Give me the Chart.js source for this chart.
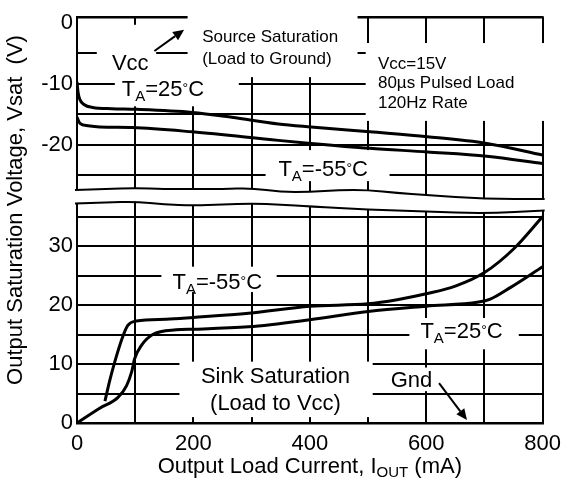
<!DOCTYPE html>
<html>
<head>
<meta charset="utf-8">
<script src="https://cdn.jsdelivr.net/npm/chart.js@4.4.1/dist/chart.umd.min.js"></script>
<style>
  body { margin: 0; background: #fff; }
  #wrap { position: relative; width: 569px; height: 490px; }
</style>
</head>
<body>
<div id="wrap"><canvas id="Chart-canvas"></canvas></div>
<script>
const FONT = "'Liberation Sans', Arial, sans-serif";

// source saturation (upper panel), volts vs mA
const srcX25 = [0, 2, 5, 12, 27, 60, 102, 198, 266, 346, 402, 503, 602, 704, 800];
const srcV25 = [-9.7, -11.5, -12.6, -13.4, -13.9, -14.1, -14.2, -14.7, -15.5, -16.6, -17.1, -17.9, -18.7, -19.8, -21.7];
const srcX55 = [0, 5, 19, 39, 95, 198, 346, 402, 503, 602, 704, 800];
const srcV55 = [-15.5, -16.5, -16.9, -17.1, -17.2, -17.9, -19.3, -19.8, -20.6, -21.2, -21.9, -23.1];

// sink saturation (lower panel)
const sinkX55 = [48, 56, 65, 77, 87, 102, 153, 200, 295, 400, 500, 550, 600, 650, 700, 750, 800];
const sinkV55 = [3.7, 7.1, 10.4, 14.2, 16.5, 17.3, 17.6, 17.9, 18.6, 19.8, 20.2, 20.9, 21.9, 23.2, 25.5, 29.5, 35];
const sinkX25 = [0, 39, 70, 85, 94, 99, 111, 130, 170, 200, 295, 400, 500, 600, 690, 710, 745, 800];
const sinkV25 = [0, 2.5, 4.3, 6.3, 8.7, 10.9, 13.2, 15, 15.8, 15.9, 16.3, 17.5, 18.9, 19.8, 20.5, 21, 23, 26.5];

const xTicks = [0, 100, 200, 300, 400, 500, 600, 700, 800];
const xLabels = [0, 200, 400, 600, 800];
const topTicks = [-25, -20, -15, -10, -5, 0];
const topLabels = [0, -10, -20];
const sinkTicks = [0, 5, 10, 15, 20, 25, 30, 35];
const sinkLabels = [0, 10, 20, 30];

const TOP_MIN = -27.3, TOP_MAX = 0.95;
const SINK_MIN = 0, SINK_MAX = 37.2;

// white patches behind the notes: [axis, x0, x1, y0, y1]
const masks = [
  ['yTop', 190, 482, 1.5, -8.9],
  ['yTop', 82, 200, -0.3, -4.0],
  ['yTop', 34, 136, -3.8, -9.1],
  ['yTop', 65, 278, -7.8, -13.7],
  ['yTop', 496, 806, -3.3, -16.1],
  ['yTop', 324, 537, -20.9, -26.0],
  ['y', 145, 343, 26.5, 22.2],
  ['y', 571, 759, 17.8, 12.5],
  ['y', 176, 508, 10.4, 1.0],
  ['y', 534, 619, 9.4, 5.4]
];

const ta = t => [['T', 22, 0], ['A', 15, 5], ['=' + t, 22, 0], ['°', 14, -3], ['C', 22, 0]];

// notes: axis, x, y (centre), align, runs
const notes = [
  ['yTop', 60, -6.5, 'left', [['Vcc', 22, 0]]],
  ['yTop', 77, -10.7, 'left', ta('25')],
  ['yTop', 215, -2.2, 'left', [['Source Saturation', 17, 0]]],
  ['yTop', 215, -5.7, 'left', [['(Load to Ground)', 17, 0]]],
  ['yTop', 517, -6.5, 'left', [['Vcc=15V', 17, 0]]],
  ['yTop', 517, -9.7, 'left', [['80µs Pulsed Load', 17, 0]]],
  ['yTop', 517, -12.9, 'left', [['120Hz Rate', 17, 0]]],
  ['yTop', 346, -23.8, 'left', ta('-55')],
  ['y', 164, 24.1, 'left', ta('-55')],
  ['y', 590, 15.8, 'left', ta('25')],
  ['y', 341, 8.2, 'center', [['Sink Saturation', 22, 0]]],
  ['y', 341, 3.5, 'center', [['(Load to Vcc)', 22, 0]]],
  ['y', 539, 7.4, 'left', [['Gnd', 22, 0]]]
];

const arrows = [
  ['yTop', 133, -4.6, 184, -1.1],
  ['y', 622, 6.75, 670, 0.5]
];

// break marks: [mA, pixel offset from gap edge]
const waveTop = [[0, 1], [50, 0], [100, -1], [150, 0], [200, 0], [250, 0], [300, -1], [350, 3], [400, 3], [450, 1], [500, 1], [550, 4], [600, 6], [700, 10], [800, 10]];
const waveBottom = [[0, 0], [50, -1], [100, -2], [150, 1], [200, 2], [250, 1], [300, 0], [350, 1], [400, 3], [500, 6], [600, 8], [700, 10], [800, 7]];

const pts = (xs, ys) => xs.map((x, i) => ({ x: x, y: ys[i] }));

function drawRuns(ctx, parts, x, yc, align) {
  let w = 0;
  parts.forEach(p => { ctx.font = p[1] + 'px ' + FONT; w += ctx.measureText(p[0]).width; });
  let cx = align === 'center' ? x - w / 2 : x;
  const base = yc + 0.36 * parts[0][1];
  ctx.textAlign = 'left';
  ctx.textBaseline = 'alphabetic';
  parts.forEach(p => {
    ctx.font = p[1] + 'px ' + FONT;
    ctx.fillText(p[0], cx, base + p[2]);
    cx += ctx.measureText(p[0]).width;
  });
}

function wavePath(ctx, p) {
  ctx.moveTo(p[0][0], p[0][1]);
  for (let i = 1; i < p.length - 1; i++) {
    const mx = (p[i][0] + p[i + 1][0]) / 2, my = (p[i][1] + p[i + 1][1]) / 2;
    ctx.quadraticCurveTo(p[i][0], p[i][1], mx, my);
  }
  ctx.lineTo(p[p.length - 1][0], p[p.length - 1][1]);
}

const decor = {
  id: 'decor',
  beforeDatasetsDraw(chart) {
    const { ctx, chartArea: a, scales } = chart;
    const xs = scales.x, gap = scales.yGap;
    ctx.save();
    ctx.strokeStyle = '#000';
    ctx.lineWidth = 2.5;
    ctx.beginPath();
    ctx.moveTo(a.left - 1, scales.yTop.top);
    ctx.lineTo(a.right + 1, scales.yTop.top);
    ctx.stroke();

    const up = waveTop.map(w => [xs.getPixelForValue(w[0]), gap.top + w[1]]);
    const lo = waveBottom.map(w => [xs.getPixelForValue(w[0]), gap.bottom + w[1]]);
    up[0][0] -= 2; lo[0][0] -= 2; up[up.length - 1][0] += 2; lo[lo.length - 1][0] += 2;
    ctx.fillStyle = '#fff';
    ctx.beginPath();
    ctx.moveTo(up[0][0], up[0][1]);
    up.forEach(p => ctx.lineTo(p[0], p[1]));
    for (let i = lo.length - 1; i >= 0; i--) ctx.lineTo(lo[i][0], lo[i][1]);
    ctx.closePath();
    ctx.fill();
    ctx.lineWidth = 2;
    ctx.beginPath(); wavePath(ctx, up); ctx.stroke();
    ctx.beginPath(); wavePath(ctx, lo); ctx.stroke();

    masks.forEach(m => {
      const ys = scales[m[0]];
      const x0 = xs.getPixelForValue(m[1]), x1 = xs.getPixelForValue(m[2]);
      const y0 = ys.getPixelForValue(m[3]), y1 = ys.getPixelForValue(m[4]);
      ctx.fillRect(x0, y0, x1 - x0, y1 - y0);
    });
    ctx.restore();
  },
  afterDatasetsDraw(chart) {
    const { ctx, chartArea: a, scales } = chart;
    const xs = scales.x;
    ctx.save();
    ctx.fillStyle = '#000';
    ctx.strokeStyle = '#000';
    notes.forEach(n => {
      drawRuns(ctx, n[4], xs.getPixelForValue(n[1]), scales[n[0]].getPixelForValue(n[2]), n[3]);
    });
    arrows.forEach(r => {
      const ys = scales[r[0]];
      const x0 = xs.getPixelForValue(r[1]), y0 = ys.getPixelForValue(r[2]);
      const x1 = xs.getPixelForValue(r[3]), y1 = ys.getPixelForValue(r[4]);
      const ang = Math.atan2(y1 - y0, x1 - x0);
      const hl = 11, hw = 5;
      const bx = x1 - hl * Math.cos(ang), by = y1 - hl * Math.sin(ang);
      ctx.lineWidth = 2;
      ctx.beginPath(); ctx.moveTo(x0, y0); ctx.lineTo(bx, by); ctx.stroke();
      ctx.beginPath();
      ctx.moveTo(x1, y1);
      ctx.lineTo(bx + hw * Math.sin(ang), by - hw * Math.cos(ang));
      ctx.lineTo(bx - hw * Math.sin(ang), by + hw * Math.cos(ang));
      ctx.closePath();
      ctx.fill();
    });
    // axis titles
    drawRuns(ctx, [['Output Load Current, I', 22, 0], ['OUT', 15, 4], [' (mA)', 22, 0]], (a.left + a.right) / 2, 465, 'center');
    ctx.translate(14, 210);
    ctx.rotate(-Math.PI / 2);
    drawRuns(ctx, [['Output Saturation Voltage, Vsat  (V)', 22, 0]], 0, 0, 'center');
    ctx.restore();
  }
};

const black = '#000';
const lineStyle = { borderColor: black, borderWidth: 3, pointRadius: 0, fill: false, cubicInterpolationMode: 'monotone' };

new Chart(document.getElementById('Chart-canvas'), {
  type: 'line',
  data: {
    datasets: [
      Object.assign({ label: 'Source 25°C', data: pts(srcX25, srcV25), yAxisID: 'yTop' }, lineStyle),
      Object.assign({ label: 'Source -55°C', data: pts(srcX55, srcV55), yAxisID: 'yTop' }, lineStyle),
      Object.assign({ label: 'Sink -55°C', data: pts(sinkX55, sinkV55), yAxisID: 'y' }, lineStyle),
      Object.assign({ label: 'Sink 25°C', data: pts(sinkX25, sinkV25), yAxisID: 'y' }, lineStyle)
    ]
  },
  options: {
    responsive: true,
    maintainAspectRatio: false,
    animation: false,
    layout: { padding: { top: 5, right: 22, left: 0, bottom: 0 } },
    plugins: { legend: { display: false }, tooltip: { enabled: false } },
    scales: {
      x: {
        type: 'linear', min: 0, max: 800,
        afterBuildTicks: s => { s.ticks = xTicks.map(v => ({ value: v })); },
        afterFit: s => { s.height = 67; },
        grid: { color: black, lineWidth: 2, drawTicks: false },
        border: { display: true, color: black, width: 2.5 },
        ticks: { color: black, font: { size: 22, family: FONT }, padding: 8, autoSkip: false, maxRotation: 0,
          callback: v => xLabels.includes(v) ? String(v) : '' }
      },
      y: {
        type: 'linear', position: 'left', stack: 'v', stackWeight: 226,
        min: SINK_MIN, max: SINK_MAX,
        afterBuildTicks: s => { s.ticks = sinkTicks.map(v => ({ value: v })); },
        afterFit: s => { s.width = 77; },
        grid: { color: black, lineWidth: 2, drawTicks: false },
        border: { display: false },
        ticks: { color: black, font: { size: 22, family: FONT }, padding: 4, autoSkip: false,
          callback: v => sinkLabels.includes(v) ? String(v) : '' }
      },
      yGap: {
        type: 'linear', position: 'left', stack: 'v', stackWeight: 15,
        min: 0, max: 1,
        afterFit: s => { s.width = 77; },
        grid: { display: false },
        border: { display: false },
        ticks: { display: false }
      },
      yTop: {
        type: 'linear', position: 'left', stack: 'v', stackWeight: 177,
        min: TOP_MIN, max: TOP_MAX,
        afterBuildTicks: s => { s.ticks = topTicks.map(v => ({ value: v })); },
        afterFit: s => { s.width = 77; },
        grid: { color: c => (c.tick && c.tick.value === 0) ? 'rgba(0,0,0,0)' : black, lineWidth: 2, drawTicks: false },
        border: { display: false },
        ticks: { color: black, font: { size: 22, family: FONT }, padding: 4, autoSkip: false,
          callback: v => topLabels.includes(v) ? String(v) : '' }
      }
    }
  },
  plugins: [decor]
});
</script>
</body>
</html>
